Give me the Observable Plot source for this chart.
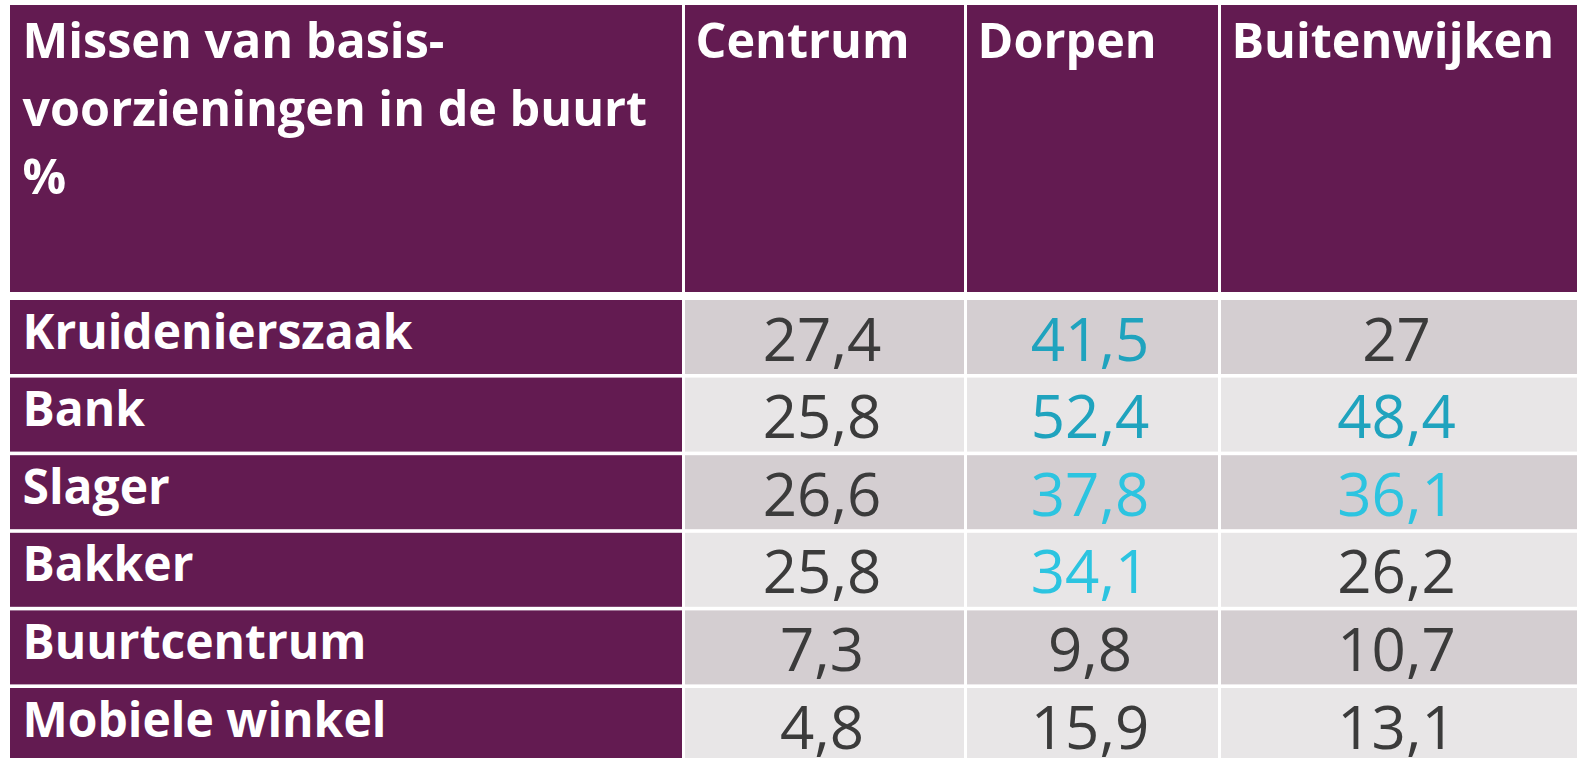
<!DOCTYPE html>
<html>
<head>
<meta charset="utf-8">
<script src="https://cdn.jsdelivr.net/npm/d3@7"></script>
<script src="https://cdn.jsdelivr.net/npm/@observablehq/plot@0.6"></script>
<style>
  html, body { margin: 0; padding: 0; background: #ffffff; overflow: hidden; }
  #chart svg { display: block; }
</style>
</head>
<body>
<div id="chart"></div>
<script>
// ---- data ----
const titleLines = ["Missen van basis-", "voorzieningen in de buurt", "%"];
const columns = ["Centrum", "Dorpen", "Buitenwijken"];
const rowLabels = ["Kruidenierszaak", "Bank", "Slager", "Bakker", "Buurtcentrum", "Mobiele winkel"];
const centrum = [27.4, 25.8, 26.6, 25.8, 7.3, 4.8];
const dorpen = [41.5, 52.4, 37.8, 34.1, 9.8, 15.9];
const buitenwijken = [27, 48.4, 36.1, 26.2, 10.7, 13.1];
// highlight level per value: 0 = none, 1 = light cyan, 2 = dark teal
const centrumHighlight = [0, 0, 0, 0, 0, 0];
const dorpenHighlight = [2, 2, 1, 1, 0, 0];
const buitenwijkenHighlight = [0, 2, 1, 0, 0, 0];

// ---- layout (pixels) ----
const W = 1577, H = 758;
const colX1 = [10, 685, 967, 1221];
const colX2 = [682, 964, 1218, 1577];
const headerTop = 5, headerBottom = 292;
const bodyTop = 300, rowPitch = 77.6, rowHeight = 74;
const purple = "#631B51";
const grayDark = "#D4CED1", grayLight = "#E8E6E7";
const highlightColors = ["#3b3b3b", "#2CC4E0", "#1FA3BE"];
const font = "Open Sans";

const series = [centrum, dorpen, buitenwijken];
const seriesHighlight = [centrumHighlight, dorpenHighlight, buitenwijkenHighlight];
const fmt = v => String(v).replace(".", ",");

const rowTop = i => bodyTop + i * rowPitch;
const rowBottom = i => Math.min(rowTop(i) + rowHeight, H);

// header cells
const headerCells = colX1.map((x1, j) => ({x1, x2: colX2[j], y1: headerTop, y2: headerBottom, fill: purple}));
// body cells
const bodyCells = [];
rowLabels.forEach((label, i) => {
  bodyCells.push({x1: colX1[0], x2: colX2[0], y1: rowTop(i), y2: rowBottom(i), fill: purple});
  columns.forEach((c, j) => {
    bodyCells.push({x1: colX1[j + 1], x2: colX2[j + 1], y1: rowTop(i), y2: rowBottom(i), fill: i % 2 === 0 ? grayDark : grayLight});
  });
});

const titleText = titleLines.map((t, i) => ({text: t, x: colX1[0] + 12, y: 57 + i * 68}));
const columnText = columns.map((c, j) => ({text: c, x: colX1[j + 1] + 10, y: 57}));
const rowText = rowLabels.map((r, i) => ({text: r, x: colX1[0] + 12, y: rowTop(i) + 48}));
const valueText = [];
rowLabels.forEach((r, i) => {
  series.forEach((s, j) => {
    valueText.push({
      text: fmt(s[i]),
      x: (colX1[j + 1] + colX2[j + 1]) / 2 - 3,
      y: rowTop(i) + 60,
      color: highlightColors[seriesHighlight[j][i]]
    });
  });
});

const chart = Plot.plot({
  width: W,
  height: H,
  margin: 0,
  style: {background: "#ffffff"},
  x: {type: "linear", domain: [0, W], range: [0, W], axis: null},
  y: {type: "linear", domain: [0, H], range: [0, H], axis: null},
  marks: [
    Plot.rect(headerCells.concat(bodyCells), {x1: "x1", x2: "x2", y1: "y1", y2: "y2", fill: d => d.fill}),
    Plot.text(titleText.concat(columnText), {
      x: "x", y: "y", text: "text", textAnchor: "start", lineAnchor: "bottom",
      fill: "#ffffff", fontSize: 48.5, fontWeight: "bold", fontFamily: font
    }),
    Plot.text(rowText, {
      x: "x", y: "y", text: "text", textAnchor: "start", lineAnchor: "bottom",
      fill: "#ffffff", fontSize: 48, fontWeight: "bold", fontFamily: font
    }),
    Plot.text(valueText, {
      x: "x", y: "y", text: "text", textAnchor: "middle", lineAnchor: "bottom",
      fill: d => d.color, fontSize: 60, fontFamily: font
    })
  ]
});
document.getElementById("chart").appendChild(chart);
</script>
</body>
</html>
